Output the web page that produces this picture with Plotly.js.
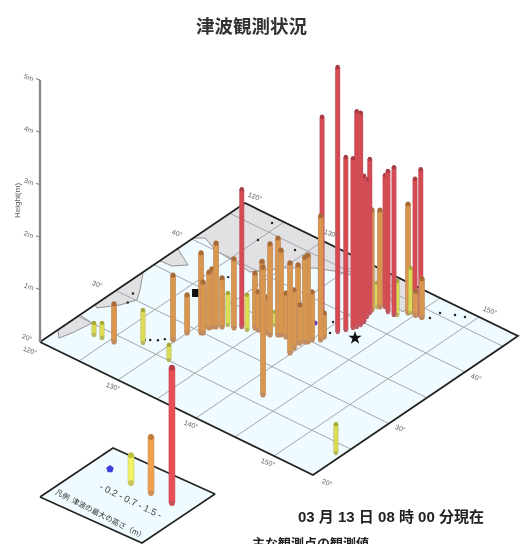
<!DOCTYPE html>
<html><head><meta charset="utf-8">
<script src="https://cdn.plot.ly/plotly-3.0.1.min.js"></script>
<style>html,body{margin:0;padding:0;background:#fff;overflow:hidden}#c{width:525px;height:544px;filter:blur(0.45px)}</style>
</head><body><div id="c"></div>
<script>
// --- data (lon E, lat N, height m)
const redLon=[141.11,138.29,141.49,141.81,141.98,142.05,141.97,141.62,141.41,141.89,142.66,143.44,145.01,145.65,133.4];
const redLat=[37.52,38.36,38.2,38.82,39.14,39.58,40.1,40.82,41.44,42.96,42.55,42.54,43.7,43.8,32.81];
const redH=[5.06,3.82,3.3,3.24,4.12,4.05,2.79,2.63,2.94,2.52,2.69,2.82,2.6,2.82,2.63];
const orangeLon=[129.7,129.98,131.02,131.17,131.48,131.07,131.18,131.93,132.93,134.5,134.94,135.46,142.47,135.94,136.39,136.98,137.21,137.8,139.86,139.61,139.36,139.51,139.77,139.99,140.07,140.64,140.72,144.26,141.51,141.23,125.52,145.8,145.1];
const orangeLat=[27.55,29.12,29.89,30.0,31.39,30.89,31.17,31.72,32.26,33.42,33.37,33.36,26.29,33.52,33.46,33.9,34.06,34.12,32.53,33.31,34.1,34.2,34.59,34.76,35.21,36.21,35.69,43.55,42.68,41.89,24.08,43.8,43.7];
const orangeH=[1.24,0.73,1.53,0.97,1.6,1.07,1.11,0.94,1.32,1.05,0.73,1.35,2.44,0.69,1.74,1.85,1.62,0.84,1.72,1.11,1.49,0.73,1.62,1.66,0.92,0.46,2.37,2.08,1.85,1.91,0.73,0.74,0.46];
const yellowLon=[123.26,124.19,127.79,131.6,130.81,132.15,134.12,135.66,154.29,144.46,141.29,143.66];
const yellowLat=[23.76,23.86,25.56,25.07,30.9,32.27,32.76,34.86,23.75,43.69,42.52,42.71];
const yellowH=[0.23,0.29,0.63,0.29,0.61,0.61,0.67,0.25,0.55,0.86,0.46,0.65];
const blueLon=[130.29,138.43], blueLat=[31.29,37.29];
const quakeLon=[143.06], quakeLat=[37.8];
const landA=[[120.02,22.35],[120.01,25.25],[121.79,25.01],[121.4,22.78],[120.98,21.5]];
const landB=[[120,27.25],[120,33.58],[121.74,31.39],[122.62,30.09],[121.9,28.59],[120.51,26.98]];
const landC=[[120,35.77],[120,38.17],[120.84,37.71],[122.57,36.85],[121.49,35.86]];
const landD=[[120,40.15],[120,47],[142.85,47],[143.53,44.56],[143.78,43.38],[142.26,43.62],[139.47,45.44],[134.68,44.43],[132.38,43.5],[130.14,41.85],[127.97,39.47],[125.75,39.78],[122.94,40.04],[120.87,40.85]];
const speckLon=[127.6,128,128.6,129,129.5,139.66,139.94,140.64,146.45,146.65,147.99,148.95,124.22,125.04,128.9,126.9,121.6,122.2];
const speckLat=[26,26.3,26.7,27.2,27.6,38.4,37.05,36.99,44.19,45.31,45.9,46.23,46.23,43.53,44.44,37.7,30.6,29.3];
const blobLon=[126.25], blobLat=[34.13];
const gridLon=[125,130,135,140,145,150], gridLat=[25,30,35,40,45];
const mapLon=[120,155], mapLat=[20,47];
const zTicks=[1,2,3,4,5], zLabels=['1m','2m','3m','4m','5m'];
const legendU=[0.411,0.616,0.826], legendV=[0.672,0.66,0.653], legendH=[0.53,1.07,2.58];
const legendBlueU=0.166, legendBlueV=0.727;
const lonLabels=[[120,47,'120°',10,-7],[130,47,'130°',8,-8],[150,47,'150°',11,-7],[130,20,'130°',-5,6],[140,20,'140°',-5,6],[150,20,'150°',-6,6],[120,20,'120°',-10,8]];
const latLabels=[[120,20,'20°',-13,-5],[120,30,'30°',-18,-6],[120,40,'40°',-14,-6],[155,20,'20°',14,7],[155,30,'30°',12,5],[155,40,'40°',12,5]];

// --- projection of the oblique map onto the page axes
const L=[40,342], A=[273,133], B=[205,-139], UNIT=52.4;
function px(lon,lat,h){const u=(lon-120)/35,v=(lat-20)/27;return [L[0]+u*A[0]+v*B[0], L[1]+u*A[1]+v*B[1]-(h||0)*UNIT];}
const LL=[40,497], LA=[102,46], LB=[73,-49];
function lp(u,v,h){return [LL[0]+u*LA[0]+v*LB[0], LL[1]+u*LA[1]+v*LB[1]-(h||0)*UNIT];}

const traces=[];
function line(pts,color,width,dash){traces.push({type:'scatter',mode:'lines',x:pts.map(p=>p[0]),y:pts.map(p=>p[1]),line:{color:color,width:width,dash:dash||'solid'},hoverinfo:'skip',showlegend:false});}
function poly(pts,fill,edge,w){const c=pts.concat([pts[0]]);traces.push({type:'scatter',mode:'lines',x:c.map(p=>p[0]),y:c.map(p=>p[1]),fill:'toself',fillcolor:fill,line:{color:edge,width:w},hoverinfo:'skip',showlegend:false});}
function dots(xs,ys,color,size,sym){traces.push({type:'scatter',mode:'markers',x:xs,y:ys,marker:{color:color,size:size,symbol:sym||'circle',line:{width:0}},hoverinfo:'skip',showlegend:false});}
function bar(b,t,fill,edge,cap,w){
  line([b,t],edge,w+1.2);
  line([b,t],fill,w);
  dots([b[0]],[b[1]],edge,w+0.6);
  dots([t[0]],[t[1]],cap,w+0.6);
}
const C={r:['#d84a52','#bb5b64','#a83a42'],o:['#d8964f','#c08d62','#a86c38'],y:['#dcdc52','#b8b860','#a8a838']};
const CL={r:['#ea4e55','#c9545a','#b83c44'],o:['#f0a04e','#cf9358','#c07c38'],y:['#f2f265','#c8c85c','#c0c040']};

// water, land, grid, border
const corners=[px(mapLon[0],mapLat[0]),px(mapLon[1],mapLat[0]),px(mapLon[1],mapLat[1]),px(mapLon[0],mapLat[1])];
poly(corners,'#f0fbff','rgba(0,0,0,0)',0);
[landA,landB,landC,landD].forEach(l=>poly(l.map(p=>px(p[0],p[1])),'#e1e1e4','#555',0.6));
gridLon.forEach(g=>line([px(g,mapLat[0]),px(g,mapLat[1])],'#a3a6a9',1));
gridLat.forEach(g=>line([px(mapLon[0],g),px(mapLon[1],g)],'#a3a6a9',1));
const sp=speckLon.map((v,i)=>px(v,speckLat[i]));
dots(sp.map(p=>p[0]),sp.map(p=>p[1]),'#222',2.4);
const bl=blobLon.map((v,i)=>px(v,blobLat[i]));
dots(bl.map(p=>p[0]),bl.map(p=>p[1]),'#111',8,'square');
line(corners.concat([corners[0]]),'#222',1.8);
// height axis
const z0=px(120,20);
line([z0,[z0[0],z0[1]-5*UNIT]],'#888',2.4);
zTicks.forEach(t=>line([[z0[0],z0[1]-t*UNIT],[z0[0]-4,z0[1]-t*UNIT-1.5]],'#777',1));
// markers on map
const q=px(quakeLon[0],quakeLat[0]);
const bu=blueLon.map((v,i)=>px(v,blueLat[i]));
dots(bu.map(p=>p[0]),bu.map(p=>p[1]),'#6a3fb5',5);
// bars, far to near
const all=[];
redLon.forEach((v,i)=>all.push([v,redLat[i],redH[i],'r']));
orangeLon.forEach((v,i)=>all.push([v,orangeLat[i],orangeH[i],'o']));
yellowLon.forEach((v,i)=>all.push([v,yellowLat[i],yellowH[i],'y']));
all.sort((a,b)=>px(a[0],a[1])[1]-px(b[0],b[1])[1]);
all.forEach(a=>{const c=C[a[3]];bar(px(a[0],a[1]),px(a[0],a[1],a[2]),c[0],c[1],c[2],a[3]=='o'?4.5:3.8);});
dots([q[0]],[q[1]],'#111',10,'star');
// legend plate
poly([lp(0,0),lp(1,0),lp(1,1),lp(0,1)],'#f0fbff','#222',1.6);
dots([lp(legendBlueU,legendBlueV)[0]],[lp(legendBlueU,legendBlueV)[1]],'#3f3fe0',8,'pentagon');
['y','o','r'].forEach((k,i)=>{const c=CL[k];bar(lp(legendU[i],legendV[i]),lp(legendU[i],legendV[i],legendH[i]),c[0],c[1],c[2],5.4);});

// text
const cjk='"Noto Sans CJK JP","Noto Sans",sans-serif', latin='"Liberation Sans","Noto Sans CJK JP",sans-serif';
function note(x,y,text,size,color,angle,family,xshift,yshift){return {x:x,y:y,xref:'x',yref:'y',text:text,showarrow:false,font:{size:size,color:color,family:family||cjk},textangle:angle||0,xshift:xshift||0,yshift:yshift||0,xanchor:'center',yanchor:'middle'};}
const ann=[
 note(252,25,'<b>津波観測状況</b>',18.5,'#333'),
 note(391,516,'<b>03 月 13 日 08 時 00 分現在</b>',15,'#222',0,latin),
 note(310,542,'<b>主な観測点の観測値</b>',13,'#222'),
 note(101,513,'凡例  津波の最大の高さ（m）',7.5,'#333',27),
 note(131,500,'- 0.2 - 0.7 - 1.5 -',9.5,'#444',26,latin),
 note(17,201,'Height(m)',8,'#555',-90,latin)
];
zTicks.forEach((t,i)=>ann.push(note(z0[0]-11,z0[1]-t*UNIT-3,zLabels[i],7,'#666',20,latin)));
lonLabels.concat(latLabels).forEach(l=>{const p=px(l[0],l[1]);ann.push(note(p[0],p[1],l[2],7,'#666',20,latin,l[3],-l[4]));});

Plotly.newPlot('c',traces,{
  width:525,height:544,margin:{l:0,r:0,t:0,b:0},paper_bgcolor:'#fff',plot_bgcolor:'#fff',showlegend:false,
  xaxis:{range:[0,525],visible:false,fixedrange:true},
  yaxis:{range:[544,0],visible:false,fixedrange:true},
  annotations:ann
},{displayModeBar:false,staticPlot:true});
</script></body></html>
